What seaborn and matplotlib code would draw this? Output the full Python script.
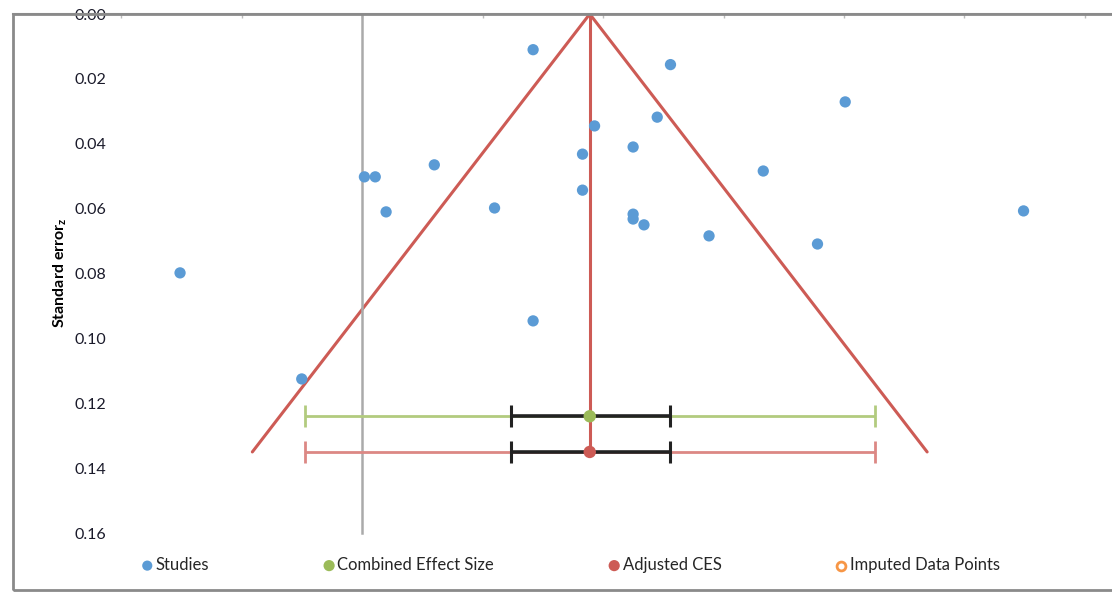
import seaborn as sns
from matplotlib import pyplot as plt
from matplotlib.patches import Rectangle

sns.set_theme(style="white")
plt.rcParams['font.family'] = ['Lato', 'DejaVu Sans']
plt.rcParams['mathtext.fontset'] = 'custom'
plt.rcParams['mathtext.rm'] = 'Lato'
plt.rcParams['mathtext.bf'] = 'Lato:bold'

# studies: effect size (z) and standard error
study_z = [0.142, 0.256, 0.401, 0.193, 0.245, 0.183, 0.225, 0.060, 0.002, 0.011,
           0.020, 0.110, 0.183, 0.225, 0.225, 0.234, 0.288, 0.333, 0.378, 0.549,
           -0.151, 0.142, -0.050]
study_se = [0.0110, 0.0156, 0.0271, 0.0345, 0.0318, 0.0432, 0.0410, 0.0465, 0.0502, 0.0502,
            0.0610, 0.0598, 0.0543, 0.0617, 0.0632, 0.0650, 0.0684, 0.0484, 0.0709, 0.0607,
            0.0798, 0.0946, 0.1125]

# combined effect size and adjusted CES (center, 95% CI, outer interval, drawn at se row)
ces = 0.189
ces_ci = [0.124, 0.256]
ces_pi = [-0.047, 0.426]
ces_row = 0.124

adj_ces = 0.189
adj_ci = [0.124, 0.256]
adj_pi = [-0.047, 0.426]
adj_row = 0.135

# funnel around adjusted CES
funnel_halfwidth = 0.28
funnel_se_max = 0.135

y_ticks = [0.00, 0.02, 0.04, 0.06, 0.08, 0.10, 0.12, 0.14, 0.16]
x_ticks = [-0.2, -0.1, 0.0, 0.1, 0.2, 0.3, 0.4, 0.5, 0.6]

blue = '#5b9bd5'
green = '#9bbb59'
green_bar = '#b2cb7e'
red = '#cd5b55'
red_bar = '#dc8884'
orange = '#f79646'

W, H = 1112, 596
fig = plt.figure(figsize=(W / 100, H / 100), dpi=100)
ax = fig.add_axes([13 / W, 6 / H, (W - 13) / W, (590 - 14) / H])

# funnel lines + vertical line at adjusted CES
sns.lineplot(x=[adj_ces - funnel_halfwidth, adj_ces, adj_ces + funnel_halfwidth],
             y=[funnel_se_max, 0, funnel_se_max], sort=False, estimator=None,
             color=red, linewidth=2.2, ax=ax, zorder=2)
ax.plot([adj_ces, adj_ces], [0, funnel_se_max], color=red, linewidth=2.2, zorder=2)

# error bars
for c, ci, pi, row, col in [(ces, ces_ci, ces_pi, ces_row, green_bar),
                            (adj_ces, adj_ci, adj_pi, adj_row, red_bar)]:
    ax.errorbar([c], [row], xerr=[[c - pi[0]], [pi[1] - c]], fmt='none',
                ecolor=col, elinewidth=2, capsize=8, capthick=2, zorder=3)
    ax.errorbar([c], [row], xerr=[[c - ci[0]], [ci[1] - c]], fmt='none',
                ecolor='#222222', elinewidth=2.6, capsize=8, capthick=2.2, zorder=4)

sns.scatterplot(x=study_z, y=study_se, color=blue, s=66, edgecolor='none',
                ax=ax, zorder=5, label='Studies')
ax.scatter([ces], [ces_row], color=green, s=80, edgecolor='none', zorder=6,
           label='Combined Effect Size')
ax.scatter([adj_ces], [adj_row], color=red, s=80, edgecolor='none', zorder=6,
           label='Adjusted CES')
ax.scatter([], [], facecolor='white', edgecolor=orange, linewidth=2, s=50,
           label='Imputed Data Points')

# axes: y inverted, x axis on top, y axis line at z = 0
ax.set_xlim((13 - 362) / 1205, (W - 362) / 1205)
ax.set_ylim((590 - 14) / 3244, 0)
ax.set_xlabel('')
ax.set_ylabel('')

for s in ['right', 'bottom']:
    ax.spines[s].set_visible(False)
ax.spines['top'].set_color('#999999')
ax.spines['top'].set_linewidth(1.5)
ax.spines['left'].set_position(('data', 0))
ax.spines['left'].set_bounds(0, 0.16)
ax.spines['left'].set_color('#aaaaaa')
ax.spines['left'].set_linewidth(1.8)

ax.xaxis.tick_top()
ax.set_xticks(x_ticks)
ax.set_xticklabels([])
ax.tick_params(axis='x', direction='in', length=3, width=1, color='#bbbbbb')

ax.set_yticks(y_ticks)
ax.set_yticklabels([f'{v:.2f}' for v in y_ticks])
ax.tick_params(axis='y', direction='in', length=3, width=1, color='#bbbbbb',
               pad=184, labelsize=11.5, labelcolor='#1a1a2a')

fig.text(60 / W, 1 - 273 / H, 'Standard error$_\\mathbf{z}$', rotation=90,
         ha='center', va='center', fontsize=11.5, fontweight='bold', color='black')

ax.legend(ncol=4, loc='center', bbox_to_anchor=(571 / W, 31 / H),
          bbox_transform=fig.transFigure, frameon=False, fontsize=12,
          columnspacing=6.9, handletextpad=0.2, handlelength=0.6, markerscale=0.9)

# outer chart frame
fig.add_artist(Rectangle((13 / W, 6 / H), 1.2, (590 - 14) / H, transform=fig.transFigure,
                         fill=False, edgecolor='#8a8a8a', linewidth=2, clip_on=False))

plt.savefig('out.png', dpi=100)
